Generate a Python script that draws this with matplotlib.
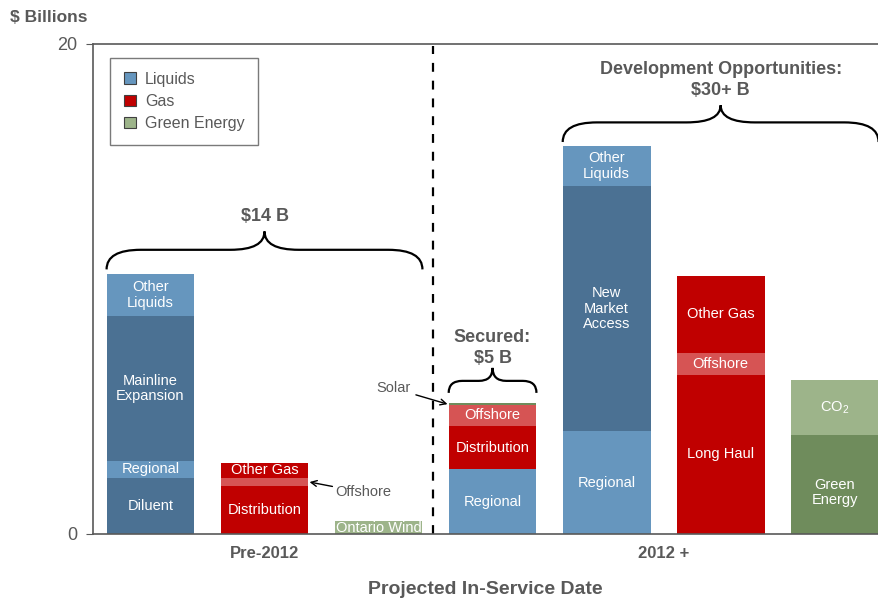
import matplotlib
matplotlib.use("Agg")
import matplotlib.pyplot as plt
from matplotlib.path import Path
from matplotlib.patches import PathPatch, Patch

plt.rcParams['font.family'] = ['Liberation Sans', 'DejaVu Sans']
plt.rcParams['mathtext.default'] = 'regular'

# ---- data ----
bar_names = ["Pre-2012 Liquids", "Pre-2012 Gas", "Pre-2012 Green",
             "Secured", "Dev Liquids", "Dev Gas", "Dev Green"]
seg_labels = [
    ["Diluent", "Regional", "Mainline\nExpansion", "Other\nLiquids"],
    ["Distribution", "Offshore", "Other Gas"],
    ["Ontario Wind"],
    ["Regional", "Distribution", "Offshore", "Solar"],
    ["Regional", "New\nMarket\nAccess", "Other\nLiquids"],
    ["Long Haul", "Offshore", "Other Gas"],
    ["Green\nEnergy", "CO$_2$"],
]
seg_values = [
    [2.29, 0.69, 5.92, 1.71],
    [1.96, 0.33, 0.61],
    [0.53],
    [2.65, 1.76, 0.86, 0.08],
    [4.20, 10.00, 1.64],
    [6.49, 0.90, 3.14],
    [4.04, 2.25],
]
# which labels are printed inside the bar (others annotated / hidden)
seg_show = [
    [True, True, True, True],
    [True, False, True],
    [True],
    [True, True, True, False],
    [True, True, True],
    [True, True, True],
    [True, True],
]
group_labels = ["Pre-2012", "2012 +"]
group_ticks = [1, 4.5]
legend_labels = ["Liquids", "Gas", "Green Energy"]
brace_texts = ["$14 B", "Secured:\n$5 B", "Development Opportunities:\n$30+ B"]

# ---- colours ----
DARK_BLUE = "#4B7193"
LIGHT_BLUE = "#6696BE"
RED = "#C00000"
LIGHT_RED = "#D65454"
DARK_GREEN = "#6F8C5C"
LIGHT_GREEN = "#9DB48A"
seg_colors = [
    [DARK_BLUE, LIGHT_BLUE, DARK_BLUE, LIGHT_BLUE],
    [RED, LIGHT_RED, RED],
    [LIGHT_GREEN],
    [LIGHT_BLUE, RED, LIGHT_RED, DARK_GREEN],
    [LIGHT_BLUE, DARK_BLUE, LIGHT_BLUE],
    [RED, LIGHT_RED, RED],
    [DARK_GREEN, LIGHT_GREEN],
]
GRAY = "#595959"

fig = plt.figure(figsize=(8.79, 6.01), dpi=100)
ax = fig.add_axes([93/879, 67/601, 785/879, 490/601])

width = 0.77
for i, (vals, cols, labs, shows) in enumerate(zip(seg_values, seg_colors, seg_labels, seg_show)):
    bottom = 0
    for v, c, l, s in zip(vals, cols, labs, shows):
        ax.bar(i, v, width=width, bottom=bottom, color=c, edgecolor='none', zorder=2)
        if s:
            yc = bottom + v / 2
            if l.startswith("Green"):
                yc = bottom + v * 0.42
            if l == "Ontario Wind":
                yc = bottom + v * 0.45
            ax.text(i, yc, l, ha='center', va='center', color='white',
                    fontsize=10.5, linespacing=1.15, zorder=3)
        bottom += v

ax.set_xlim(-0.504, 6.38)
ax.set_ylim(0, 20)
ax.set_yticks([0, 20])
ax.set_yticklabels(["0", "20"], fontsize=13, color=GRAY)
ax.set_xticks(group_ticks)
ax.set_xticklabels(group_labels, fontsize=12, fontweight='bold', color=GRAY)
ax.tick_params(axis='x', length=0, pad=9)
ax.tick_params(axis='y', length=5, direction='out', color=GRAY, pad=6)
for sp in ['left', 'bottom', 'top']:
    ax.spines[sp].set_color(GRAY)
    ax.spines[sp].set_linewidth(1.2)
ax.spines['right'].set_visible(False)
ax.set_xlabel("Projected In-Service Date", fontsize=14, fontweight='bold', color=GRAY, labelpad=14)
fig.text(10/879, 1 - 18/601, "$ Billions", fontsize=12.5, fontweight='bold', color=GRAY,
         ha='left', va='center')

# divider
ax.plot([2.48, 2.48], [0, 19.9], ls=(0, (4, 4)), color='black', lw=1.6, zorder=1)

# braces
def brace(x0, x1, yb, ym, yp, r=0.3):
    xm = (x0 + x1) / 2
    verts = [(x0, yb), (x0, ym), (x0 + r, ym),
             (xm - r, ym),
             (xm, ym), (xm, yp),
             (xm, ym), (xm + r, ym),
             (x1 - r, ym),
             (x1, ym), (x1, yb)]
    codes = [Path.MOVETO, Path.CURVE3, Path.CURVE3,
             Path.LINETO,
             Path.CURVE3, Path.CURVE3,
             Path.CURVE3, Path.CURVE3,
             Path.LINETO,
             Path.CURVE3, Path.CURVE3]
    ax.add_patch(PathPatch(Path(verts, codes), fill=False, lw=1.6, color='black',
                           zorder=4, clip_on=False))

brace(-width/2, 2 + width/2, 10.8, 11.6, 12.35, r=0.3)
brace(3 - width/2, 3 + width/2, 5.76, 6.25, 6.78, r=0.12)
brace(4 - width/2, 6 + width/2, 16.0, 16.8, 17.5, r=0.3)

ax.text(1, 12.95, brace_texts[0], ha='center', va='center', fontsize=13,
        fontweight='bold', color=GRAY)
ax.text(3, 7.6, brace_texts[1], ha='center', va='center', fontsize=13,
        fontweight='bold', color=GRAY, linespacing=1.3)
ax.text(5, 18.53, brace_texts[2], ha='center', va='center', fontsize=13,
        fontweight='bold', color=GRAY, linespacing=1.25)

# annotations
ax.annotate("Offshore", xy=(1 + width/2 + 0.01, 2.12), xytext=(1.62, 1.7),
            fontsize=10.5, color=GRAY, ha='left', va='center',
            arrowprops=dict(arrowstyle='->', color='black', lw=1.0, shrinkA=0, shrinkB=0))
ax.annotate("Solar", xy=(3 - width/2 - 0.01, 5.3), xytext=(2.28, 5.95),
            fontsize=10.5, color=GRAY, ha='right', va='center',
            arrowprops=dict(arrowstyle='->', color='black', lw=1.0, shrinkA=2, shrinkB=0))

# legend
handles = [Patch(facecolor=c, edgecolor='#404040', lw=0.8) for c in [LIGHT_BLUE, RED, LIGHT_GREEN]]
leg = ax.legend(handles, legend_labels, loc='upper left', bbox_to_anchor=(0.0217, 0.971),
                fontsize=11.5, frameon=True, fancybox=False, handlelength=0.75, handleheight=0.75,
                handletextpad=0.6, labelspacing=0.45, borderpad=0.85, labelcolor=GRAY,
                borderaxespad=0)
leg.get_frame().set_edgecolor(GRAY)
leg.get_frame().set_linewidth(1.0)

fig.savefig("out.png", dpi=100)
